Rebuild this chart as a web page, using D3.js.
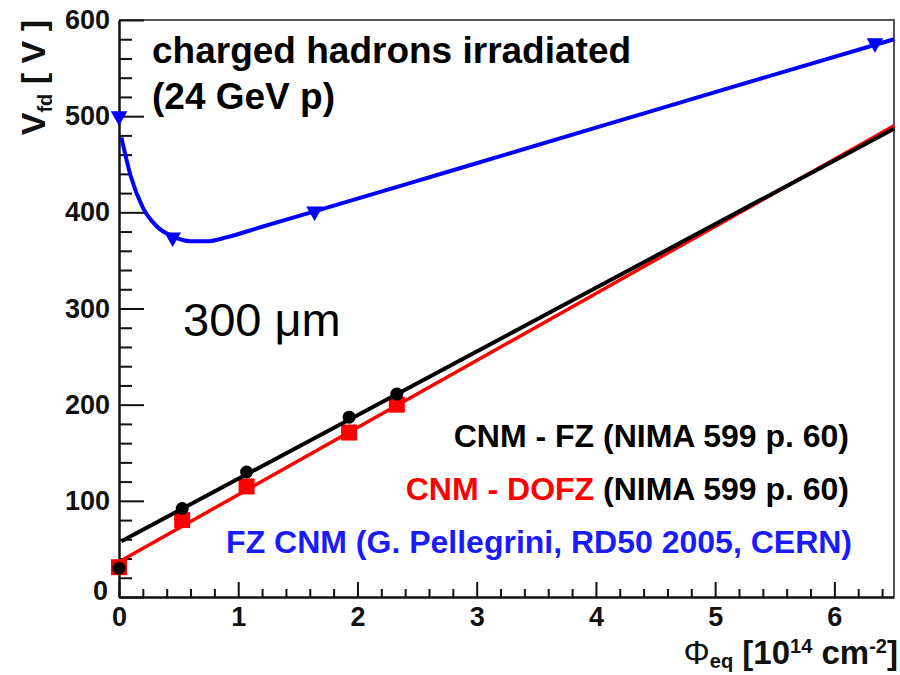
<!DOCTYPE html>
<html>
<head>
<meta charset="utf-8">
<script src="https://cdn.jsdelivr.net/npm/d3@7"></script>
<style>
  body { margin: 0; background: #fff; }
  text { font-family: "Liberation Sans", Arial, Helvetica, sans-serif; }
</style>
</head>
<body>
<script>
// fluence in 1e14 cm^-2, full depletion voltage in V
var fzX = [0, 0.53, 1.07, 1.93, 2.33];
var fzV = [30, 92, 130, 187, 211];
var fzFitX = [0.02, 6.5];
var fzFitV = [58, 487];

var dofzX = [0, 0.53, 1.07, 1.93, 2.33];
var dofzV = [31, 80, 115, 171, 200];
var dofzFitX = [0.02, 6.5];
var dofzFitV = [38, 490];

var pgX = [0, 0.45, 1.64, 6.34];
var pgV = [500, 374, 401, 576];
var pgCurveX = [0.02, 0.1, 0.2, 0.32, 0.45, 0.6, 0.75, 0.9, 1.2, 1.64, 2.78, 4, 5, 6.5];
var pgCurveV = [478, 437, 405, 385, 375, 370, 370, 374, 385, 401, 443, 488, 525, 580];

var xMajor = [0, 1, 2, 3, 4, 5, 6];
var yMajor = [0, 100, 200, 300, 400, 500, 600];

var W = 900, H = 675;
var svg = d3.select("body").append("svg").attr("width", W).attr("height", H);

var x = d3.scaleLinear().domain([0, 6.5]).range([119, 894]);
var y = d3.scaleLinear().domain([0, 600]).range([597, 20]);

// frame top / right
svg.append("path")
    .attr("d", "M" + x(0) + "," + y(600) + "H" + x(6.5) + "V" + y(0))
    .attr("fill", "none").attr("stroke", "#555").attr("stroke-width", 2);

// minor ticks
var xMinor = d3.range(0, 6.5001, 0.2).map(function (d) { return +d.toFixed(1); })
    .filter(function (d) { return xMajor.indexOf(d) < 0; });
var yMinor = d3.range(0, 600.1, 20).filter(function (d) { return d % 100 !== 0; });

svg.append("g").attr("transform", "translate(0," + y(0) + ")")
    .call(d3.axisBottom(x).tickValues(xMinor).tickSize(-8).tickFormat(""))
    .call(function (g) { g.select(".domain").remove(); })
    .selectAll("line").attr("stroke", "#111").attr("stroke-width", 2);
svg.append("g").attr("transform", "translate(" + x(0) + ",0)")
    .call(d3.axisLeft(y).tickValues(yMinor).tickSize(-13).tickFormat(""))
    .call(function (g) { g.select(".domain").remove(); })
    .selectAll("line").attr("stroke", "#111").attr("stroke-width", 2);

var xAxis = svg.append("g").attr("transform", "translate(0," + y(0) + ")")
    .call(d3.axisBottom(x).tickValues(xMajor).tickFormat(d3.format("d"))
        .tickSize(-15).tickPadding(10).tickSizeOuter(0));
var yAxis = svg.append("g").attr("transform", "translate(" + x(0) + ",0)")
    .call(d3.axisLeft(y).tickValues(yMajor).tickFormat(d3.format("d"))
        .tickSize(-25).tickPadding(9).tickSizeOuter(0));

[xAxis, yAxis].forEach(function (a) {
    a.select(".domain").attr("stroke", "#111").attr("stroke-width", 2.5);
    a.selectAll(".tick line").attr("stroke", "#111").attr("stroke-width", 2);
    a.selectAll(".tick text")
        .attr("fill", "#111")
        .style("font-size", "27px")
        .style("font-weight", "bold")
        .style("font-family", "'Liberation Sans', Arial, sans-serif");
});
// the zero of the V axis sits a bit higher, like the original
yAxis.selectAll(".tick text").filter(function (d) { return d === 0; })
    .attr("dy", "0.1em").attr("x", -11);

// axis titles
var yt = svg.append("text")
    .attr("transform", "translate(45," + y(600) + ") rotate(-90)")
    .attr("text-anchor", "end")
    .style("font-size", "34px").style("font-weight", "bold").attr("fill", "#111");
yt.append("tspan").text("V");
yt.append("tspan").attr("dy", 7).style("font-size", "20px").text("fd");
yt.append("tspan").attr("dy", -7).text(" [ V ]");

var xt = svg.append("text")
    .attr("x", 898).attr("y", 664)
    .attr("text-anchor", "end")
    .style("font-size", "33px").style("font-weight", "bold").attr("fill", "#111");
xt.append("tspan").style("font-weight", "normal").text("\u03A6");
xt.append("tspan").attr("dy", 4).style("font-size", "20px").text("eq");
xt.append("tspan").attr("dy", -4).text(" [10");
xt.append("tspan").attr("dy", -11).style("font-size", "20px").text("14");
xt.append("tspan").attr("dy", 11).text(" cm");
xt.append("tspan").attr("dy", -11).style("font-size", "20px").text("-2");
xt.append("tspan").attr("dy", 11).text("]");

var line = d3.line().x(function (d) { return x(d[0]); }).y(function (d) { return y(d[1]); });

// DOFZ (red)
svg.append("path")
    .datum(d3.zip(dofzFitX, dofzFitV))
    .attr("d", line).attr("fill", "none").attr("stroke", "#ff0000").attr("stroke-width", 3.5);
svg.selectAll(".sq").data(d3.zip(dofzX, dofzV)).join("rect")
    .attr("x", function (d) { return x(d[0]) - 8; })
    .attr("y", function (d) { return y(d[1]) - 8; })
    .attr("width", 16).attr("height", 16).attr("fill", "#ff0000");

// FZ (black)
svg.append("path")
    .datum(d3.zip(fzFitX, fzFitV))
    .attr("d", line).attr("fill", "none").attr("stroke", "#000").attr("stroke-width", 4);
svg.selectAll(".dot").data(d3.zip(fzX, fzV)).join("circle")
    .attr("cx", function (d) { return x(d[0]); })
    .attr("cy", function (d) { return y(d[1]); })
    .attr("r", 6.5).attr("fill", "#000");

// Pellegrini (blue)
svg.append("path")
    .datum(d3.zip(pgCurveX, pgCurveV))
    .attr("d", d3.line().x(function (d) { return x(d[0]); }).y(function (d) { return y(d[1]); })
        .curve(d3.curveMonotoneX))
    .attr("fill", "none").attr("stroke", "#0000ff").attr("stroke-width", 4);
svg.selectAll(".tri").data(d3.zip(pgX, pgV)).join("path")
    .attr("transform", function (d) { return "translate(" + x(d[0]) + "," + y(d[1]) + ") rotate(180)"; })
    .attr("d", d3.symbol(d3.symbolTriangle, 120))
    .attr("fill", "#0000ff");

// annotations
svg.append("text").attr("x", 152).attr("y", 63)
    .style("font-size", "37px").style("font-weight", "bold").attr("fill", "#000")
    .text("charged hadrons irradiated");
svg.append("text").attr("x", 152).attr("y", 109)
    .style("font-size", "37px").style("font-weight", "bold").attr("fill", "#000")
    .text("(24 GeV p)");
svg.append("text").attr("x", 183).attr("y", 336)
    .style("font-size", "47px").attr("fill", "#000")
    .text("300 \u03BCm");

var lg = svg.append("g").style("font-size", "32px").style("font-weight", "bold");
lg.append("text").attr("x", 849).attr("y", 447).attr("text-anchor", "end")
    .attr("fill", "#000").text("CNM - FZ (NIMA 599 p. 60)");
var l2 = lg.append("text").attr("x", 849).attr("y", 500).attr("text-anchor", "end");
l2.append("tspan").attr("fill", "#ff0000").text("CNM - DOFZ");
l2.append("tspan").attr("fill", "#000").text(" (NIMA 599 p. 60)");
lg.append("text").attr("x", 852).attr("y", 553).attr("text-anchor", "end")
    .attr("fill", "#1a1aff").text("FZ CNM (G. Pellegrini, RD50 2005, CERN)");
</script>
</body>
</html>
